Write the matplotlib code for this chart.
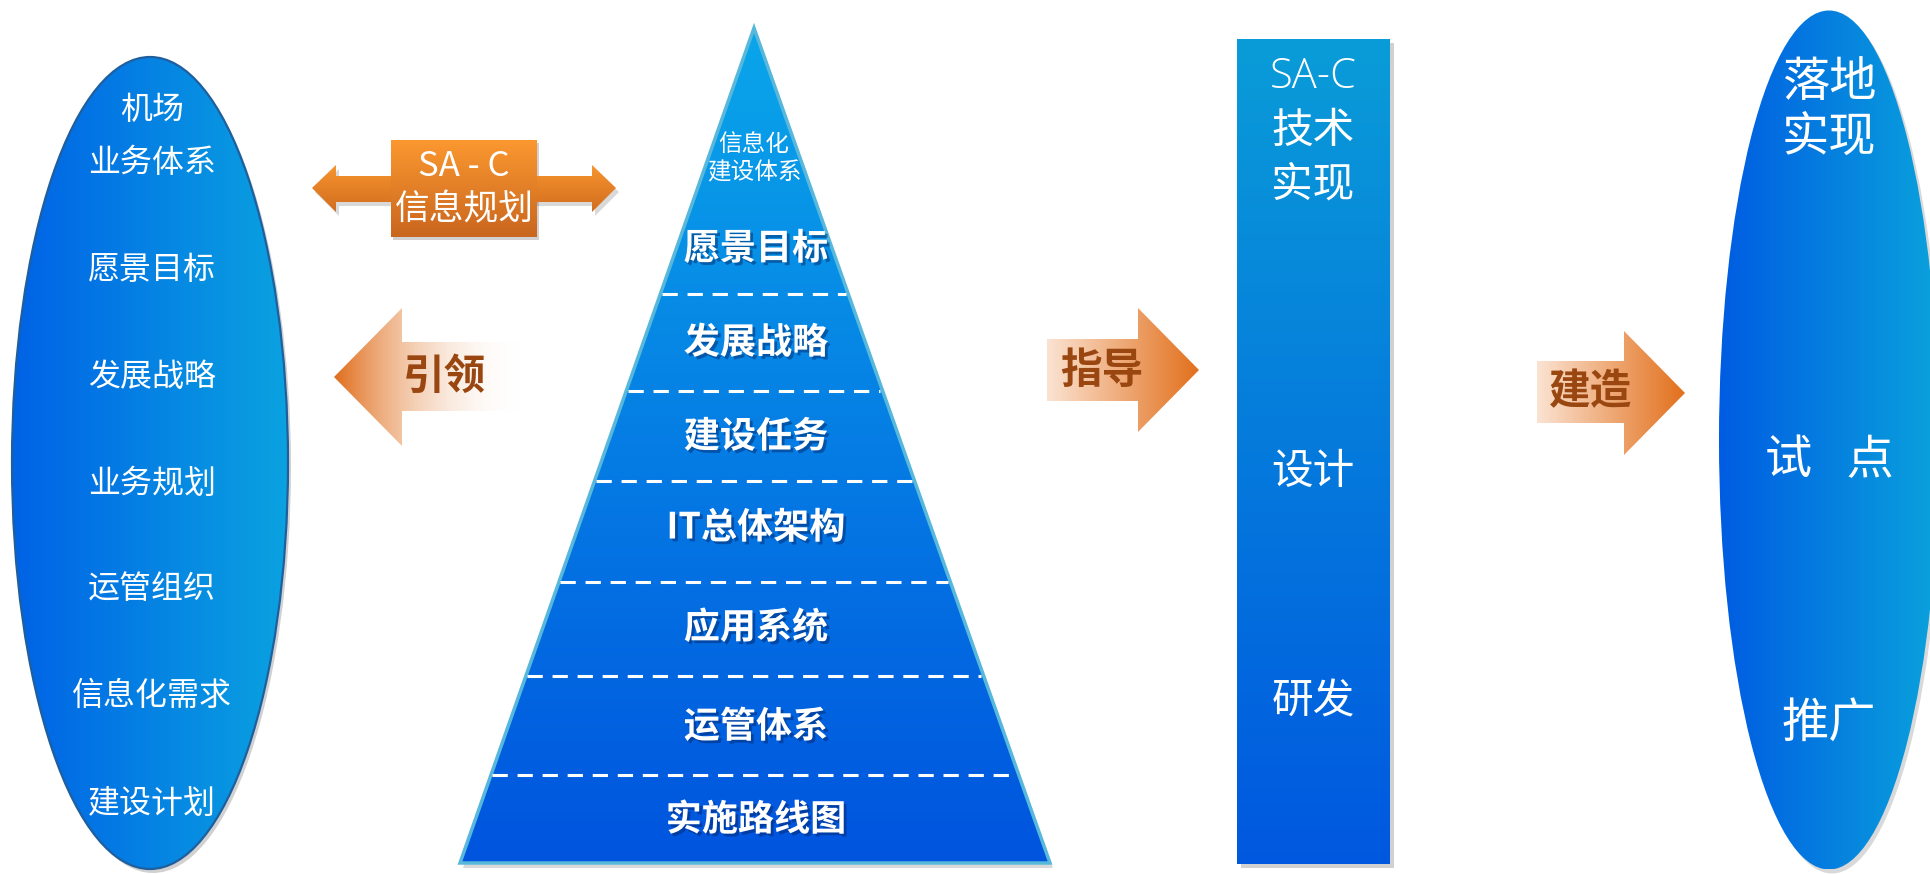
import numpy as np
import matplotlib
matplotlib.use("Agg")
import matplotlib.pyplot as plt
from matplotlib.patches import Ellipse, Polygon, Rectangle
from matplotlib.colors import to_rgba
from matplotlib import patheffects as pe

plt.rcParams['font.family'] = ['Noto Sans CJK SC', 'DejaVu Sans']

# ---- text content ----
left_items = ['机场', '业务体系', '愿景目标', '发展战略', '业务规划', '运管组织', '信息化需求', '建设计划']
pyramid_title = ['信息化', '建设体系']
pyramid_layers = ['愿景目标', '发展战略', '建设任务', 'IT总体架构', '应用系统', '运管体系', '实施路线图']
rect_top = ['SA-C', '技术', '实现']
rect_mid = ['设计', '研发']
right_items = ['落地', '实现', '试\u2002 点', '推广']
plan_box = ['SA - C', '信息规划']
arrow_labels = ['引领', '指导', '建造']

W, H = 1931, 874
fig = plt.figure(figsize=(W / 100, H / 100), dpi=100)
ax = fig.add_axes([0, 0, 1, 1])
ax.set_axis_off()


def grad(patch, extent, c0, c1, vertical=False, a0=1.0, a1=1.0, z=2):
    t = np.linspace(0, 1, 256)
    r0 = np.array(to_rgba(c0, a0))
    r1 = np.array(to_rgba(c1, a1))
    cols = (1 - t)[:, None] * r0 + t[:, None] * r1
    img = cols[:, None, :] if vertical else cols[None, :, :]
    x0, x1, y0, y1 = extent
    im = ax.imshow(img, extent=(x0, x1, y1, y0), origin='upper', aspect='auto',
                   interpolation='bilinear', zorder=z)
    patch.set_facecolor('none')
    patch.set_edgecolor('none')
    ax.add_patch(patch)
    im.set_clip_path(patch)
    return im


def shadow(patch, alpha=0.18, z=1):
    patch.set_facecolor('black')
    patch.set_alpha(alpha)
    patch.set_edgecolor('none')
    patch.set_zorder(z)
    ax.add_patch(patch)


# ---- left ellipse ----
lcx, lcy, lw, lh = 150, 463, 276, 812
shadow(Ellipse((lcx + 3, lcy + 4), lw, lh))
grad(Ellipse((lcx, lcy), lw, lh), (lcx - lw / 2, lcx + lw / 2, lcy - lh / 2, lcy + lh / 2),
     '#0062e6', '#0aa2e0')
ax.add_patch(Ellipse((lcx, lcy), lw, lh, facecolor='none', edgecolor='#1f5f9e', lw=1.6, zorder=3))
left_y = [110, 163, 270, 377, 484, 589, 696, 804]
for s, y in zip(left_items, left_y):
    ax.text(lcx + 2, y, s, color='white', fontsize=23, ha='center', va='center', zorder=5)

# ---- double arrow with SA-C box ----
dbl = [(312, 188), (336, 165), (336, 176), (592, 176), (592, 165), (616, 188),
       (592, 212), (592, 202), (336, 202), (336, 212)]
shadow(Polygon([(x + 3, y + 4) for x, y in dbl]), alpha=0.15)
grad(Polygon(dbl), (312, 616, 165, 212), '#f7952e', '#d26c1e', vertical=True, z=2)
shadow(Rectangle((393, 143), 146, 97), alpha=0.18)
grad(Rectangle((391, 140), 146, 97), (391, 537, 140, 237), '#fb9830', '#c9661f', vertical=True, z=3)
ax.text(464, 166, plan_box[0], color='white', fontsize=25, ha='center', va='center', zorder=5)
ax.text(464, 210, plan_box[1], color='white', fontsize=25, ha='center', va='center', zorder=5)

# ---- side arrows ----
lead = [(334, 377), (402, 308), (402, 342), (522, 342), (522, 411), (402, 411), (402, 446)]
grad(Polygon(lead), (334, 522, 308, 446), '#e06d1a', '#ffffff', a0=1.0, a1=0.0)
guide = [(1047, 339), (1138, 339), (1138, 308), (1199, 370), (1138, 432), (1138, 401), (1047, 401)]
grad(Polygon(guide), (1047, 1199, 308, 432), '#fbe3d2', '#e2701c')
build = [(1537, 361), (1624, 361), (1624, 331), (1685, 393), (1624, 455), (1624, 423), (1537, 423)]
grad(Polygon(build), (1537, 1685, 331, 455), '#fbe3d2', '#e2701c')

brown = '#9a4610'
for s, (x, y) in zip(arrow_labels, [(445, 377), (1102, 371), (1591, 392)]):
    ax.text(x, y, s, color=brown, fontsize=30, fontweight='bold', ha='center', va='center', zorder=5)

# ---- pyramid ----
apex = (754, 28)
base_y, bl, br = 863, 460, 1050
tri = [apex, (br, base_y), (bl, base_y)]
shadow(Polygon([(x + 3, y + 5) for x, y in tri]), alpha=0.15)
grad(Polygon(tri), (bl, br, apex[1], base_y), '#0aa6ea', '#0054de', vertical=True)
ax.add_patch(Polygon(tri, closed=True, facecolor='none', edgecolor='#58b8dc', lw=2.5, zorder=3))

bounds = [294, 391, 481, 582, 676, 775]
for y in bounds:
    half = (br - bl) / 2 * (y - apex[1]) / (base_y - apex[1])
    ax.plot([apex[0] - half + 2, apex[0] + half - 2], [y, y], color='white', lw=2.2,
            ls=(0, (5, 3.2)), zorder=4, solid_capstyle='butt')

ax.text(754, 144, pyramid_title[0], color='white', fontsize=17, ha='center', va='center', zorder=5)
ax.text(754, 173, pyramid_title[1], color='white', fontsize=17, ha='center', va='center', zorder=5)
shade = [pe.SimplePatchShadow(offset=(2, -2), shadow_rgbFace='#002060', alpha=0.45), pe.Normal()]
layer_y = [249, 343, 437, 528, 628, 727, 820]
for s, y in zip(pyramid_layers, layer_y):
    ax.text(756, y, s, color='white', fontsize=26, fontweight='bold', ha='center', va='center',
            zorder=5, path_effects=shade)

# ---- SA-C technical bar ----
shadow(Rectangle((1241, 43), 153, 825), alpha=0.18)
grad(Rectangle((1237, 39), 153, 825), (1237, 1390, 39, 864), '#0a9cd8', '#0058e0', vertical=True)
light_fam = ['Open Sans', 'Noto Sans CJK SC', 'DejaVu Sans']
for s, y in zip(rect_top, [77, 131, 185]):
    fam = light_fam if s.isascii() else ['Noto Sans CJK SC', 'DejaVu Sans']
    ax.text(1313, y, s, color='white', fontsize=30, fontweight='light', family=fam,
            ha='center', va='center', zorder=5)
for s, y in zip(rect_mid, [472, 702]):
    ax.text(1313, y, s, color='white', fontsize=30, fontweight='light', ha='center', va='center', zorder=5)

# ---- right ellipse ----
rcx, rcy, rw, rh = 1829, 440, 220, 859
shadow(Ellipse((rcx + 3, rcy + 4), rw, rh), alpha=0.15)
grad(Ellipse((rcx, rcy), rw, rh), (rcx - rw / 2, rcx + rw / 2, rcy - rh / 2, rcy + rh / 2),
     '#005ce2', '#0aa2dc')
for s, y in zip(right_items, [83, 138, 461, 723]):
    ax.text(rcx, y, s, color='white', fontsize=34, ha='center', va='center', zorder=5)

ax.set_xlim(0, W)
ax.set_ylim(H, 0)
fig.savefig('out.png', dpi=100, facecolor='white')
